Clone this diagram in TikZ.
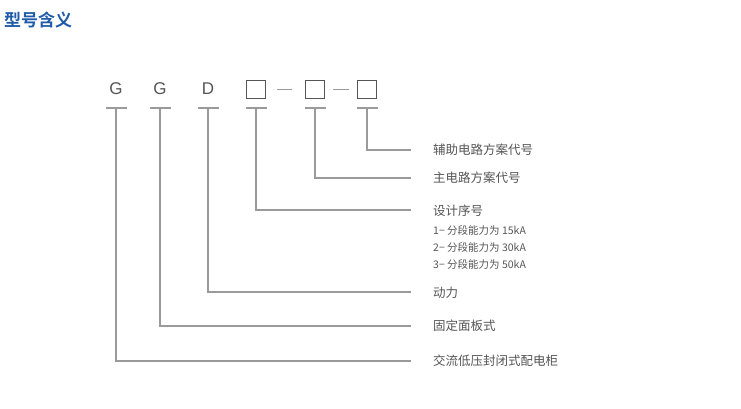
\documentclass[tikz,border=0pt]{standalone}
\usepackage{fontspec}
\setmainfont{Liberation Sans}
\newfontfamily\cjk{Noto Sans CJK SC}
\newfontfamily\cjkbold{Noto Sans CJK SC Bold}
\definecolor{titleblue}{HTML}{1F5BA8}
\definecolor{linegray}{HTML}{9A9A9A}
\definecolor{textgray}{HTML}{555555}
\tikzset{
  lead/.style={draw=linegray, line width=1.6pt},
  letter/.style={text=textgray, font=\fontsize{17}{17}\selectfont, inner sep=0pt},
  slot/.style={draw=textgray, line width=0.9pt, minimum width=19pt, minimum height=18pt, inner sep=0pt},
  label/.style={anchor=west, text=textgray, font=\cjk\fontsize{12.5}{13}\selectfont, inner sep=0pt},
  sublabel/.style={anchor=west, text=textgray, font=\cjk\fontsize{10.5}{11}\selectfont, inner sep=0pt}
}
\begin{document}
\begin{tikzpicture}[x=1pt,y=-1pt]
\useasboundingbox (0,0) rectangle (741,408);
\node[anchor=west, text=titleblue, font=\cjkbold\fontsize{17}{17}\selectfont, inner sep=0pt] (title) at (4,20) {型号含义};
% code letters and slots
\node[letter] (g1) at (116,89) {G};
\node[letter] (g2) at (160,89) {G};
\node[letter] (d) at (208,89) {D};
\node[slot] (s1) at (256,89) {};
\node[slot] (s2) at (315,89) {};
\node[slot] (s3) at (367,89) {};
\draw[draw=linegray, line width=1pt] (277,89) -- (292,89);
\draw[draw=linegray, line width=1pt] (333,89) -- (349,89);
% bars under each symbol
\foreach \x/\n in {116/a,160/b,208/c,256/e,315/f,367/h}
  \draw[lead] (\x-10.5,108) -- (\x+10.5,108);
% leaders
\draw[lead] (367,108) |- (411,150);
\draw[lead] (315,108) |- (411,178);
\draw[lead] (256,108) |- (411,210);
\draw[lead] (208,108) |- (411,292);
\draw[lead] (160,108) |- (411,326);
\draw[lead] (116,108) |- (411,361);
% labels
\node[label] (l6) at (433,150) {辅助电路方案代号};
\node[label] (l5) at (433,178) {主电路方案代号};
\node[label] (l4) at (433,211) {设计序号};
\node[sublabel] (l4a) at (433,230) {1− 分段能力为 15kA};
\node[sublabel] (l4b) at (433,247) {2− 分段能力为 30kA};
\node[sublabel] (l4c) at (433,264) {3− 分段能力为 50kA};
\node[label] (l3) at (433,293) {动力};
\node[label] (l2) at (433,326) {固定面板式};
\node[label] (l1) at (433,361) {交流低压封闭式配电柜};
\end{tikzpicture}
\end{document}
